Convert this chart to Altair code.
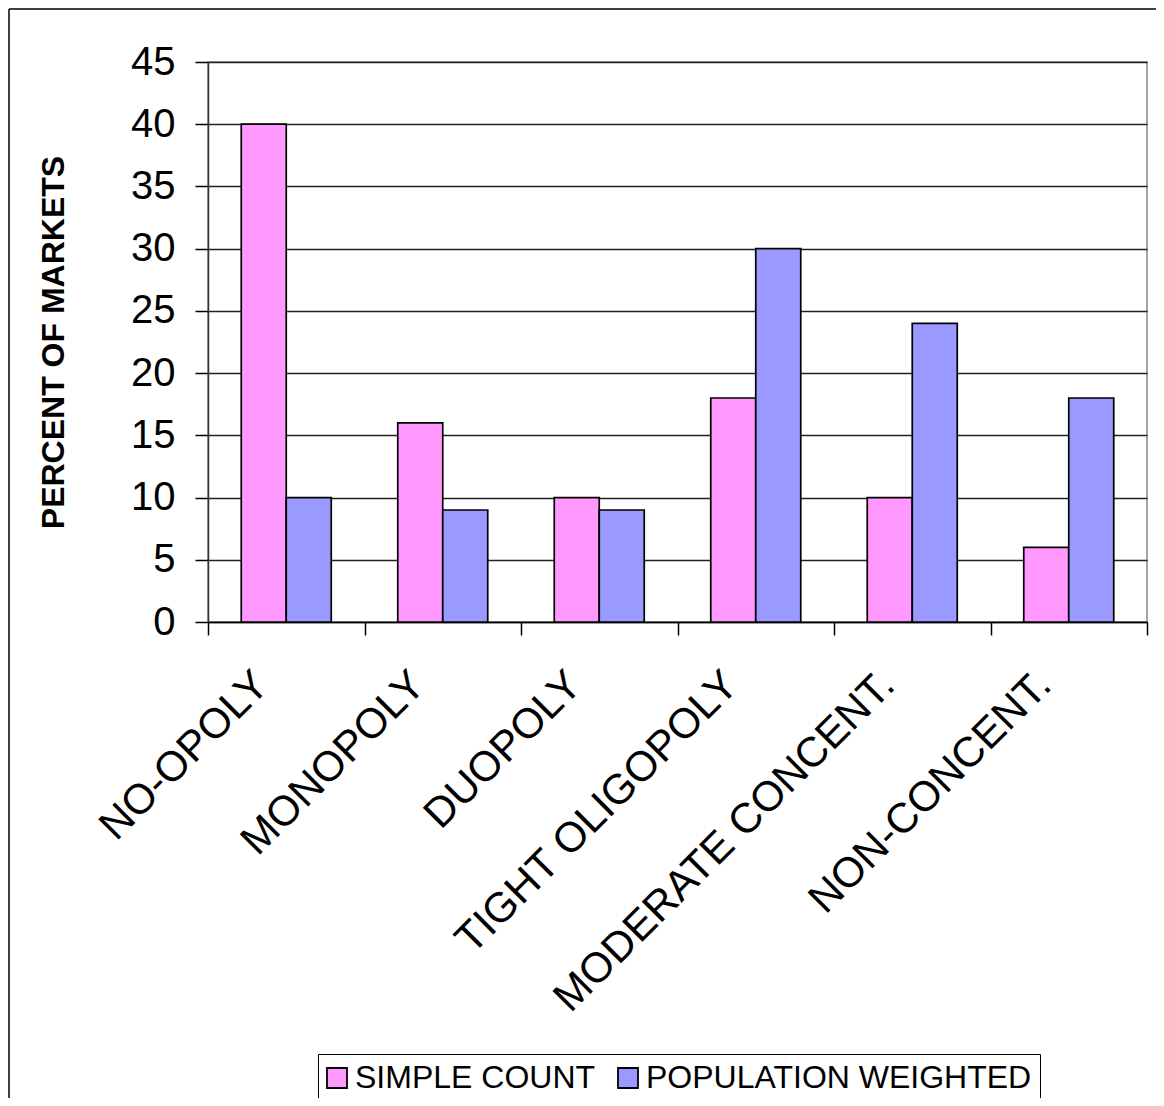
import altair as alt
import pandas as pd

categories = ["NO-OPOLY", "MONOPOLY", "DUOPOLY", "TIGHT OLIGOPOLY", "MODERATE CONCENT.", "NON-CONCENT."]
series = ["SIMPLE COUNT", "POPULATION WEIGHTED"]
simple_count = [40, 16, 10, 18, 10, 6]
population_weighted = [10, 9, 9, 30, 24, 18]
colors = ["#FF99FF", "#9999FF"]
y_ticks = [0, 5, 10, 15, 20, 25, 30, 35, 40, 45]

rows = []
for c, a, b in zip(categories, simple_count, population_weighted):
    rows.append({"category": c, "series": series[0], "value": a})
    rows.append({"category": c, "series": series[1], "value": b})
df = pd.DataFrame(rows)

FONT = "Liberation Sans"
W, H = 939, 560
PAD_L, PAD_T, PAD_R = 200, 54, 9
PAD_B = 1090 - PAD_T - H

bars = alt.Chart(df).mark_bar(stroke="black", strokeWidth=1.7).encode(
    x=alt.X("category:N", sort=categories, title=None,
            scale=alt.Scale(paddingInner=0, paddingOuter=0),
            axis=alt.Axis(labelAngle=315, labelAlign="right", labelBaseline="alphabetic",
                          labelFontSize=42, labelFont=FONT, labelColor="black",
                          labelPadding=52, labelOffset=-16, labelLimit=1000,
                          tickBand="extent", tickSize=13, tickColor="black", tickWidth=1.5,
                          domainColor="black", domainWidth=1.5, grid=False)),
    xOffset=alt.XOffset("series:N", sort=series,
                        scale=alt.Scale(paddingInner=0, paddingOuter=0.739)),
    y=alt.Y("value:Q", title="PERCENT OF MARKETS",
            scale=alt.Scale(domain=[0, 45], nice=False, zero=True),
            axis=alt.Axis(values=y_ticks, labelFontSize=40, labelFont=FONT, labelColor="black",
                          labelPadding=20, tickSize=13, tickColor="black", tickWidth=1.5,
                          domainColor="#333333", domainWidth=1.5,
                          gridColor="#222222", gridWidth=1.3,
                          titleFont=FONT, titleFontSize=32, titleFontWeight="bold",
                          titleColor="black", titleAngle=270, titleX=-155, titleY=280,
                          titleAlign="center", titleBaseline="middle")),
    color=alt.Color("series:N", sort=series,
                    scale=alt.Scale(domain=series, range=colors),
                    legend=alt.Legend(title=None, orient="none", legendX=110, legendY=992,
                                      direction="horizontal", strokeColor="black",
                                      fillColor="white", padding=8,
                                      symbolType="square", symbolSize=400, symbolOffset=-5,
                                      symbolStrokeColor="black", symbolStrokeWidth=1.8,
                                      labelFontSize=32, labelFont=FONT, labelColor="black",
                                      labelOffset=2, columnPadding=18, labelLimit=1000)),
)

frame_df = pd.DataFrame({"k": [0]})
top_line = alt.Chart(frame_df).mark_rule(color="black", strokeWidth=1.5).encode(
    x=alt.value(-199), x2=alt.value(W + PAD_R), y=alt.value(-53))
left_line = alt.Chart(frame_df).mark_rule(color="black", strokeWidth=1.5).encode(
    x=alt.value(-199), y=alt.value(-53), y2=alt.value(H + PAD_B))

chart = alt.layer(bars, top_line, left_line).properties(
    width=W, height=H,
    padding={"left": PAD_L, "top": PAD_T, "right": PAD_R, "bottom": PAD_B},
    autosize=alt.AutoSizeParams(type="none"),
    background="white",
).configure_view(stroke="#888888", strokeWidth=1.5)

chart.save("out.html", embed_options={"renderer": "svg", "actions": False})
